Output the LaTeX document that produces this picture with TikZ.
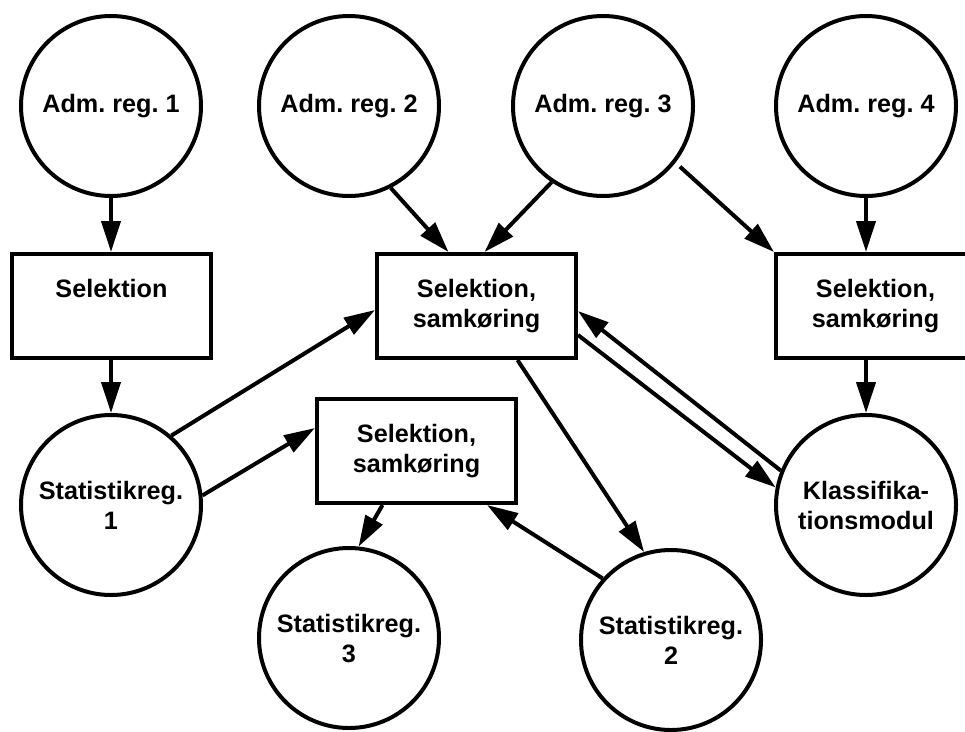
\documentclass[tikz,border=0pt]{standalone}
\usepackage{fontspec}
\setmainfont{Liberation Sans}
\usetikzlibrary{arrows.meta,calc}
\begin{document}
\frenchspacing
\begin{tikzpicture}[x=1pt,y=-1pt,
  every node/.style={font=\fontsize{25.2}{30}\selectfont\bfseries\frenchspacing, align=center},
  reg/.style={circle, draw, line width=4pt, minimum size=180pt, inner sep=0pt},
  box/.style={rectangle, draw, line width=4pt, minimum width=199pt, minimum height=104pt, inner sep=0pt},
  conn/.style={line width=4pt, -{Triangle[length=31pt,width=19pt]}}
]
\useasboundingbox (0,0) rectangle (965,731);
\clip (0,0) rectangle (965,731);
% circles
\node[reg] (adm1) at (111,106) {Adm. reg. 1};
\node[reg] (adm2) at (349,106) {Adm. reg. 2};
\node[reg] (adm3) at (603,106) {Adm. reg. 3};
\node[reg] (adm4) at (866,106) {Adm. reg. 4};
\node[reg] (stat1) at (111,505) {Statistikreg.\\1};
\node[reg] (klass) at (866,505) {Klassifika-\\tionsmodul};
\node[reg] (stat3) at (349,638) {Statistikreg.\\3};
\node[reg] (stat2) at (671,640) {Statistikreg.\\2};
% boxes
\node[box] (sel1) at (111.5,306) {Selektion\\\phantom{g}};
\node[box] (sel2) at (476.5,306) {Selektion,\\samkøring};
\node[box] (sel4) at (875.5,306) {Selektion,\\samkøring};
\node[box] (sel3) at (416.5,451) {Selektion,\\samkøring};
% connectors
\draw[conn] (adm1) -- (adm1 |- sel1.north);
\draw[conn] (adm2.-63) -- ($(sel2.north)+(-28,0)$);
\draw[conn] (adm3.-124) -- ($(sel2.north)+(8,0)$);
\draw[conn, shorten <=6pt] (adm3.-38) -- (sel4.north west);
\draw[conn] (adm4) -- (adm4 |- sel4.north);
\draw[conn] (sel1.south -| stat1) -- (stat1.north);
\draw[conn] (stat1.49) -- ($(sel2.west)+(0,4)$);
\draw[conn] (stat1.6) -- ($(sel3.west)+(0,-23)$);
\draw[conn] ($(sel3.south)+(-34,0)$) -- (stat3.84);
\draw[conn] ($(sel2.south)+(41,0)$) -- (stat2.107);
\draw[conn] (stat2.138) -- ($(sel3.south)+(70.5,0)$);
\draw[conn] (sel4.south -| klass) -- (klass.north);
\draw[conn] ($(sel2.east)+(0,29)$) -- (klass.169);
\draw[conn] (klass.158) -- ($(sel2.east)+(0,5)$);
\end{tikzpicture}
\end{document}
